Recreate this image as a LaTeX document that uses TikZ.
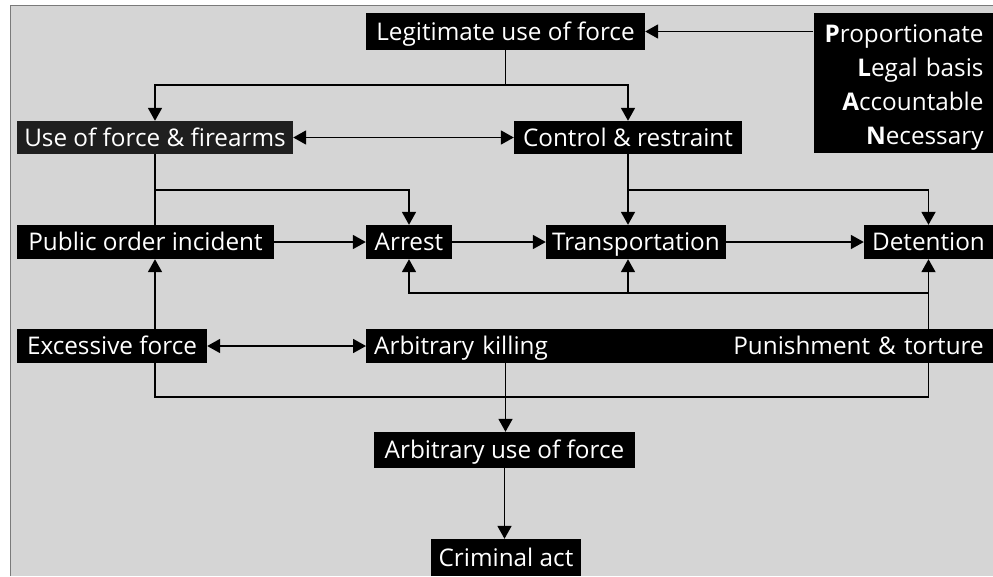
\documentclass[tikz,border=0pt]{standalone}
\usepackage{fontspec}
\setmainfont{Open Sans}
\usetikzlibrary{arrows.meta,calc}
\definecolor{bgc}{HTML}{D5D5D5}
\definecolor{framec}{HTML}{7A7A7A}
\tikzset{
  boxbase/.style={fill=black, text=white, inner sep=0pt, font=\fontsize{24.3}{28}\selectfont},
  box/.style={boxbase, minimum height=34pt, text height=17pt, text depth=0pt},
  conn/.style={line width=1.8pt, black},
  arr/.style={conn, -{Triangle[width=14pt,length=13pt]}},
  darr/.style={conn, {Triangle[width=14pt,length=13pt]}-{Triangle[width=14pt,length=13pt]}}
}
\begin{document}
\begin{tikzpicture}[x=1pt,y=-1pt]
\useasboundingbox (0,0) rectangle (993,576);
\fill[white] (0,0) rectangle (993,576);
\fill[bgc] (10,5) rectangle (993,576);
\draw[framec, line width=1pt] (10,576) -- (10,5) -- (993,5);

% nodes
\node[box, minimum width=279pt, minimum height=37pt] (legit) at (505.5,31.5) {Legitimate use of force};
\node[boxbase, minimum width=179pt, minimum height=140pt, align=right, text width=160pt, inner xsep=10pt, text height=26pt, font=\fontsize{24.3}{34}\selectfont] (plan) at (903.5,83)
  {\textbf{P}roportionate\\ \textbf{L}egal basis\\ \textbf{A}ccountable\\ \textbf{N}ecessary};
\node[box, fill=black!88, minimum width=276pt, minimum height=33pt] (useforce) at (155,137.5) {Use of force \& firearms};
\node[box, minimum width=228pt, minimum height=33pt] (control) at (628,137.5) {Control \& restraint};
\node[box, minimum width=257pt] (public) at (145.5,242) {Public order incident};
\node[box, minimum width=86pt] (arrest) at (409,242) {Arrest};
\node[box, minimum width=180pt] (transport) at (636,242) {Transportation};
\node[box, minimum width=129pt] (detention) at (928.5,242) {Detention};
\node[box, minimum width=190pt] (excessive) at (112,346) {Excessive force};
\node[box, anchor=west, text width=268pt, inner xsep=8pt, align=left] (killing) at (366,346) {Arbitrary killing};
\node[box, anchor=east, text width=325pt, inner xsep=9pt, align=right] (punish) at (993,346) {Punishment \& torture};
\node[box, minimum width=261pt, minimum height=36pt] (arbforce) at (504.5,450) {Arbitrary use of force};
\node[box, minimum width=150pt, minimum height=37pt] (criminal) at (506,557.5) {Criminal act};

% connectors
\draw[arr] (plan.west |- legit.east) -- (legit.east);
\draw[arr] (legit.south) -- ++(0,35) -| (useforce.north);
\draw[arr] (legit.south) -- ++(0,35) -| (control.north);
\draw[darr] (useforce.east) -- (control.west);

\draw[conn] (useforce.south) -- (useforce.south |- public.north);
\draw[arr] (useforce.south) -- ++(0,36) -| (arrest.north);
\draw[arr] (control.south) -- (control.south |- transport.north);
\draw[arr] (control.south) -- ++(0,36) -| (detention.north);

\draw[arr] (public.east) -- (arrest.west);
\draw[arr] (arrest.east) -- (transport.west);
\draw[arr] (transport.east) -- (detention.west);

\draw[arr] (detention.south |- punish.north) -- (detention.south);
\draw[arr] (detention.south |- punish.north) -- ++(0,-36) -| (arrest.south);
\draw[arr] (detention.south |- punish.north) -- ++(0,-36) -| (control.south |- transport.south);

\draw[arr] (useforce.south |- excessive.north) -- (useforce.south |- public.south);
\draw[darr] (excessive.east) -- (killing.west);

\draw[conn] (useforce.south |- excessive.south) -- ++(0,34) -| (detention.south |- punish.south);
\draw[arr] (legit.south |- killing.south) -- (legit.south |- arbforce.north);
\draw[arr] (arbforce.south) -- (arbforce.south |- criminal.north);
\end{tikzpicture}
\end{document}
